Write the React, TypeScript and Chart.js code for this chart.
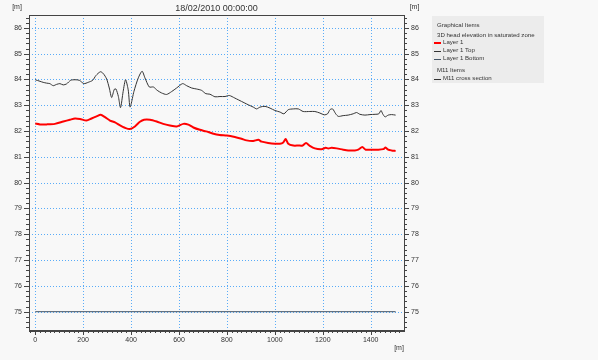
import React, { useEffect, useRef } from 'react';
import { Chart, registerables } from 'chart.js';

Chart.register(...registerables);

const chartTitle = '18/02/2010 00:00:00';
const unitLabel = '[m]';
const xTickValues = [0, 200, 400, 600, 800, 1000, 1200, 1400];
const yTickValues = [75, 76, 77, 78, 79, 80, 81, 82, 83, 84, 85, 86];

const legendHeader1 = 'Graphical Items';
const legendHeader2 = '3D head elevation in saturated zone';
const legendHeader3 = 'M11 Items';
const seriesNames = ['Layer 1', 'Layer 1 Top', 'Layer 1 Bottom', 'M11 cross section'];

const layer1X = [0, 20, 47, 82, 117, 145, 166, 187, 214, 235, 256, 273, 291, 312, 333, 354, 374, 395, 416, 437, 454, 479, 507, 534, 562, 590, 618, 639, 660, 687, 713, 740, 770, 800, 833, 861, 882, 910, 931, 945, 972, 1000, 1021, 1035, 1045, 1056, 1077, 1098, 1116, 1130, 1146, 1167, 1195, 1212, 1223, 1237, 1258, 1285, 1306, 1334, 1348, 1365, 1379, 1404, 1432, 1452, 1462, 1473, 1487, 1504];
const layer1Y = [82.29, 82.26, 82.26, 82.28, 82.37, 82.44, 82.49, 82.47, 82.41, 82.49, 82.57, 82.63, 82.54, 82.41, 82.34, 82.22, 82.13, 82.08, 82.18, 82.36, 82.44, 82.44, 82.37, 82.28, 82.22, 82.18, 82.28, 82.25, 82.14, 82.05, 81.99, 81.91, 81.85, 81.83, 81.77, 81.70, 81.64, 81.62, 81.66, 81.59, 81.54, 81.51, 81.51, 81.56, 81.69, 81.51, 81.44, 81.44, 81.44, 81.54, 81.43, 81.33, 81.30, 81.35, 81.33, 81.35, 81.33, 81.28, 81.25, 81.25, 81.28, 81.38, 81.28, 81.28, 81.28, 81.30, 81.36, 81.28, 81.25, 81.23];

const topX = [0, 20, 33, 47, 61, 75, 89, 103, 117, 131, 148, 166, 184, 203, 221, 240, 253, 272, 284, 298, 309, 319, 330, 337, 347, 356, 367, 377, 388, 396, 412, 430, 446, 458, 476, 493, 509, 527, 548, 569, 590, 615, 632, 653, 674, 694, 712, 729, 750, 771, 792, 810, 833, 861, 889, 910, 924, 938, 959, 980, 1000, 1021, 1038, 1056, 1077, 1098, 1118, 1146, 1167, 1188, 1206, 1220, 1230, 1241, 1254, 1265, 1285, 1306, 1327, 1341, 1355, 1376, 1397, 1418, 1434, 1443, 1450, 1460, 1473, 1487, 1504];
const topY = [83.99, 83.93, 83.89, 83.86, 83.84, 83.76, 83.81, 83.84, 83.79, 83.83, 83.97, 83.99, 83.97, 83.84, 83.89, 83.97, 84.15, 84.30, 84.23, 84.02, 83.67, 83.30, 83.62, 83.63, 83.34, 82.91, 83.54, 83.99, 83.60, 82.93, 83.54, 84.06, 84.32, 84.06, 83.71, 83.71, 83.58, 83.48, 83.42, 83.53, 83.67, 83.84, 83.76, 83.67, 83.63, 83.58, 83.45, 83.43, 83.33, 83.34, 83.34, 83.38, 83.28, 83.15, 83.02, 82.93, 82.86, 82.93, 82.96, 82.89, 82.80, 82.74, 82.67, 82.83, 82.86, 82.86, 82.76, 82.76, 82.76, 82.70, 82.63, 82.67, 82.83, 82.86, 82.67, 82.57, 82.60, 82.62, 82.67, 82.72, 82.65, 82.62, 82.64, 82.65, 82.67, 82.80, 82.67, 82.55, 82.62, 82.64, 82.62];

const bottomX = [0, 1504];
const bottomY = [75, 75];

const FONT = '"Liberation Sans", Arial, sans-serif';
const TEXT = '#333333';

const decorPlugin = {
  id: 'decor',
  beforeDatasetsDraw(chart: any) {
    const { ctx, chartArea: a, scales } = chart;
    const xs = scales.x;
    const ys = scales.y;
    ctx.save();
    ctx.strokeStyle = '#5aacf8';
    ctx.lineWidth = 1;
    ctx.setLineDash([1, 2]);
    for (const v of xTickValues) {
      const px = Math.round(xs.getPixelForValue(v)) + 0.5;
      ctx.beginPath();
      ctx.moveTo(px, a.top);
      ctx.lineTo(px, a.bottom);
      ctx.stroke();
    }
    for (const v of yTickValues) {
      const py = Math.round(ys.getPixelForValue(v)) + 0.5;
      ctx.beginPath();
      ctx.moveTo(a.left, py);
      ctx.lineTo(a.right, py);
      ctx.stroke();
    }
    ctx.restore();
  },
  afterDraw(chart: any) {
    const { ctx, chartArea: a, scales } = chart;
    const xs = scales.x;
    const ys = scales.y;
    ctx.save();
    ctx.setLineDash([]);
    ctx.strokeStyle = '#444444';
    ctx.lineWidth = 1;
    ctx.strokeRect(Math.round(a.left) + 0.5, Math.round(a.top) + 0.5, Math.round(a.right - a.left), Math.round(a.bottom - a.top));
    ctx.beginPath();
    ctx.moveTo(a.left, Math.round(a.bottom) + 1.5);
    ctx.lineTo(a.right + 1, Math.round(a.bottom) + 1.5);
    ctx.stroke();

    // bottom axis ticks
    ctx.beginPath();
    for (let i = -1; i <= 76; i++) {
      const v = i * 20;
      const px = Math.round(xs.getPixelForValue(v)) + 0.5;
      if (px < a.left || px > a.right) continue;
      const len = i % 10 === 0 ? 5 : 3;
      ctx.moveTo(px, a.bottom);
      ctx.lineTo(px, a.bottom + len);
    }
    ctx.stroke();

    // left and right axis ticks
    ctx.beginPath();
    for (let i = 372; i <= 433; i++) {
      const v = i / 5;
      const py = Math.round(ys.getPixelForValue(v)) + 0.5;
      if (py < a.top || py > a.bottom) continue;
      const len = i % 5 === 0 ? 5 : 3;
      ctx.moveTo(a.left - len, py);
      ctx.lineTo(a.left, py);
      ctx.moveTo(a.right, py);
      ctx.lineTo(a.right + len, py);
    }
    ctx.stroke();

    // titles
    ctx.fillStyle = TEXT;
    ctx.textBaseline = 'middle';
    ctx.textAlign = 'center';
    ctx.font = `9px ${FONT}`;
    ctx.fillText(chartTitle, (a.left + a.right) / 2, 9);
    ctx.font = `7px ${FONT}`;
    ctx.fillText(unitLabel, 17, 7);
    ctx.fillText(unitLabel, 414.5, 7);
    ctx.fillText(unitLabel, 399, 348.5);

    // legend
    ctx.fillStyle = '#ececec';
    ctx.fillRect(432, 16, 112, 67);
    ctx.fillStyle = TEXT;
    ctx.textAlign = 'left';
    ctx.font = `6.1px ${FONT}`;
    ctx.fillText(legendHeader1, 437, 25);
    ctx.fillText(legendHeader2, 437, 35);
    const rows = [
      { name: seriesNames[0], y: 42.7, color: '#ff0000', w: 2 },
      { name: seriesNames[1], y: 50.7, color: '#333333', w: 1 },
      { name: seriesNames[2], y: 58.5, color: '#445566', w: 1 },
      { name: seriesNames[3], y: 78.5, color: '#333333', w: 1 },
    ];
    ctx.fillText(legendHeader3, 437, 70.5);
    for (const r of rows) {
      ctx.strokeStyle = r.color;
      ctx.lineWidth = r.w;
      ctx.beginPath();
      const ly = r.w === 2 ? Math.round(r.y) : Math.round(r.y) + 0.5;
      ctx.moveTo(434, ly);
      ctx.lineTo(441, ly);
      ctx.stroke();
      ctx.fillText(r.name, 443, r.y);
    }
    ctx.restore();
  },
};

export default function App() {
  const ref = useRef<HTMLCanvasElement | null>(null);
  useEffect(() => {
    if (!ref.current) return;
    const pts = (xs: number[], ys: number[]) => xs.map((x, i) => ({ x, y: ys[i] }));
    const tickFont = { family: FONT, size: 7 };
    const fmt = (v: any) => String(v);
    const chart = new Chart(ref.current, {
      type: 'line',
      data: {
        datasets: [
          {
            label: seriesNames[2],
            data: pts(bottomX, bottomY),
            borderColor: '#445566',
            borderWidth: 1,
            pointRadius: 0,
            tension: 0,
          },
          {
            label: seriesNames[1],
            data: pts(topX, topY),
            borderColor: '#333333',
            borderWidth: 1,
            pointRadius: 0,
            tension: 0.25,
          },
          {
            label: seriesNames[0],
            data: pts(layer1X, layer1Y),
            borderColor: '#ff0000',
            borderWidth: 2,
            pointRadius: 0,
            tension: 0.25,
          },
        ],
      },
      options: {
        animation: false,
        responsive: false,
        devicePixelRatio: 1,
        layout: { padding: { top: 15, left: 0, right: 0, bottom: 0 } },
        plugins: { legend: { display: false }, title: { display: false }, tooltip: { enabled: false } },
        scales: {
          x: {
            type: 'linear',
            position: 'bottom',
            min: -26,
            max: 1539,
            afterBuildTicks: (s: any) => { s.ticks = xTickValues.map((v) => ({ value: v })); },
            afterFit: (s: any) => { s.height = 30; },
            grid: { display: false, drawTicks: false },
            border: { display: false },
            ticks: { font: tickFont, color: TEXT, padding: 6, maxRotation: 0, autoSkip: false, callback: fmt },
          },
          y: {
            type: 'linear',
            position: 'left',
            min: 74.29,
            max: 86.5,
            afterBuildTicks: (s: any) => { s.ticks = yTickValues.map((v) => ({ value: v })); },
            afterFit: (s: any) => { s.width = 29; },
            grid: { display: false, drawTicks: false },
            border: { display: false },
            ticks: { font: tickFont, color: TEXT, padding: 7, autoSkip: false, callback: fmt },
          },
          y2: {
            type: 'linear',
            position: 'right',
            min: 74.29,
            max: 86.5,
            afterBuildTicks: (s: any) => { s.ticks = yTickValues.map((v) => ({ value: v })); },
            afterFit: (s: any) => { s.width = 194; },
            grid: { display: false, drawTicks: false },
            border: { display: false },
            ticks: { font: tickFont, color: TEXT, padding: 7, autoSkip: false, callback: fmt },
          },
        },
      },
      plugins: [decorPlugin],
    } as any);
    return () => chart.destroy();
  }, []);
  return (
    <div style={{ position: 'fixed', left: 0, top: 0, width: 598, height: 360, background: '#f8f8f8' }}>
      <canvas ref={ref} width={598} height={360} style={{ display: 'block', width: 598, height: 360 }} />
    </div>
  );
}
